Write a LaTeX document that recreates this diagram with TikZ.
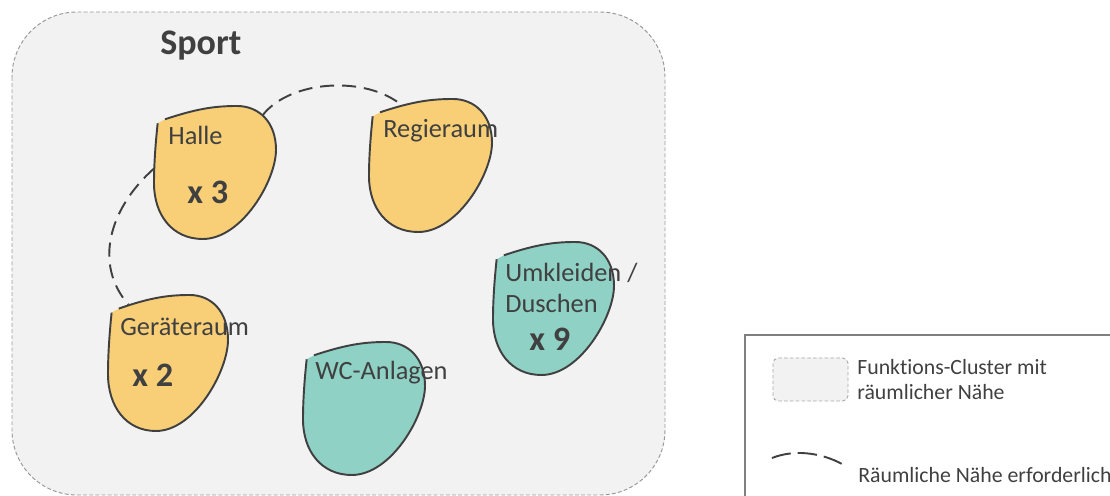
\documentclass[tikz,border=0pt]{standalone}
\usepackage{fontspec}
\setmainfont{Carlito}[Ligatures=NoCommon]

\definecolor{hallgelb}{HTML}{F8CF77}
\definecolor{nasstuerkis}{HTML}{8FD1C5}
\definecolor{clustergrau}{HTML}{F2F2F2}
\definecolor{textgrau}{HTML}{404040}

% \raum{name}{left}{top}{width}{height}{fill}
\newcommand{\raum}[6]{%
  \begin{scope}[shift={(#2,#3)},xscale=#4,yscale=#5]
    \filldraw[rand,fill=#6] (0.09,0.10) .. controls (0.35,0.02) and (0.5,0) .. (0.68,0)
      .. controls (0.86,0) and (1,0.12) .. (1,0.33)
      .. controls (1,0.56) and (0.72,1) .. (0.40,1)
      .. controls (0.15,1) and (0,0.82) .. (0,0.58)
      .. controls (0,0.4) and (0.02,0.22) .. (0.03,0.13);
    \coordinate (#1-n) at (0.27,0.05);
    \coordinate (#1-nw) at (0.17,0.07);
    \coordinate (#1-ne) at (0.89,0.07);
    \coordinate (#1-w) at (0,0.47);
  \end{scope}}

\begin{document}
\begin{tikzpicture}[x=0.02cm,y=-0.02cm,
    rand/.style={draw=textgrau,line width=1.1pt},
    naehe/.style={draw=textgrau,line width=1.1pt,dash pattern=on 8pt off 4.5pt},
    lbl/.style={anchor=base west,inner sep=0pt,text=textgrau,font=\fontsize{15}{18}\selectfont},
    anzahl/.style={lbl,font=\fontsize{19.5}{22}\selectfont\bfseries},
    legtext/.style={anchor=base west,inner sep=0pt,text=textgrau,font=\fontsize{12.4}{14}\selectfont}]
    \useasboundingbox (0,0) rectangle (1110,496);
    \clip (0,0) rectangle (1110,496);

    \draw[draw=gray!80,fill=clustergrau,line width=0.55pt,dash pattern=on 2.2pt off 1.3pt,rounded corners=37pt] (12,12) rectangle (665,495);
    \node [anzahl,font=\fontsize{20.5}{24}\selectfont\bfseries] (sport) at (160,55) {Sport};

    \raum{halle}{154}{106}{122}{133}{hallgelb}
    \raum{regie}{369}{99}{123}{133}{hallgelb}
    \raum{geraet}{108}{295}{120}{136}{hallgelb}
    \raum{wc}{303}{342}{122}{133}{nasstuerkis}
    \raum{umkleide}{493}{242}{121}{133}{nasstuerkis}

    \draw [naehe] (halle-ne) .. controls +(28,-36) and +(-35,-30) .. (regie-n);
    \draw [naehe] (halle-w) .. controls +(-45,40) and +(-35,-40) .. (geraet-nw);

    \node [lbl] (halle-txt) at (168,145) {Halle};
    \node [anzahl] (halle-anz) at (187,204) {x 3};
    \node [lbl] (regie-txt) at (383,138) {Regieraum};
    \node [lbl] (geraet-txt) at (120,336) {Geräteraum};
    \node [anzahl] (geraet-anz) at (132,387) {x 2};
    \node [lbl] (wc-txt) at (315,380) {WC-Anlagen};
    \node [lbl] (umkleide-txt) at (505,282) {Umkleiden /};
    \node [lbl] (dusche-txt) at (505,313) {Duschen};
    \node [anzahl] (umkleide-anz) at (529,351) {x 9};

    % legend
    \draw[draw=gray,line width=1.1pt] (745,335) rectangle (1130,520);
    \draw[draw=gray!70,fill=clustergrau,line width=0.5pt,dash pattern=on 2pt off 1.3pt,rounded corners=3pt] (773,358) rectangle (848,401);
    \node [legtext] (leg-cluster1) at (857,375) {Funktions-Cluster mit};
    \node [legtext] (leg-cluster2) at (857,400) {räumlicher Nähe};
    \coordinate (leg-a) at (772,458);
    \coordinate (leg-b) at (847,467);
    \draw [naehe,dash pattern=on 11pt off 4pt] (leg-a) .. controls +(25,-10) and +(-20,-13) .. (leg-b);
    \node [legtext] (leg-naehe) at (858,483) {Räumliche Nähe erforderlich};
\end{tikzpicture}
\end{document}
